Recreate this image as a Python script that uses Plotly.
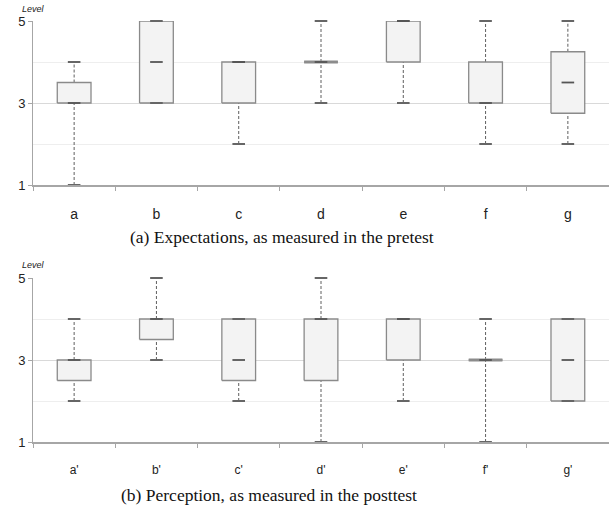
import plotly.graph_objects as go

# ---- data ----
cats_pre = ["a", "b", "c", "d", "e", "f", "g"]
pre_min = [1, 3, 2, 3, 3, 2, 2]
pre_q1 = [3, 3, 3, 4, 4, 3, 2.75]
pre_med = [3, 4, 4, 4, 5, 3, 3.5]
pre_q3 = [3.5, 5, 4, 4, 5, 4, 4.25]
pre_max = [4, 5, 4, 5, 5, 5, 5]

cats_post = ["a'", "b'", "c'", "d'", "e'", "f'", "g'"]
post_min = [2, 3, 2, 1, 2, 1, 2]
post_q1 = [2.5, 3.5, 2.5, 2.5, 3, 3, 2]
post_med = [3, 4, 3, 4, 4, 3, 3]
post_q3 = [3, 4, 4, 4, 4, 3, 4]
post_max = [4, 5, 4, 5, 4, 4, 4]

captions = ["(a) Expectations, as measured in the pretest",
            "(b) Perception, as measured in the posttest"]
y_title = "Level"

W, H = 609, 507
HALF = 0.205  # half box width in category units

fig = go.Figure()

panels = [
    (cats_pre, pre_min, pre_q1, pre_med, pre_q3, pre_max, "x", "y"),
    (cats_post, post_min, post_q1, post_med, post_q3, post_max, "x2", "y2"),
]

for cats, mn, q1, md, q3, mx, xa, ya in panels:
    n = len(cats)
    # whiskers
    wx, wy = [], []
    for i in range(n):
        if mn[i] < q1[i]:
            wx += [i, i, None]; wy += [mn[i], q1[i], None]
        if mx[i] > q3[i]:
            wx += [i, i, None]; wy += [q3[i], mx[i], None]
    fig.add_trace(go.Scatter(x=wx, y=wy, mode="lines", xaxis=xa, yaxis=ya,
                             line=dict(color="#5f5f5f", width=1, dash="3px,2px"),
                             hoverinfo="skip", showlegend=False, cliponaxis=False))
    # boxes
    bx, by = [], []
    fx, fy = [], []
    for i in range(n):
        bx += [i - HALF, i + HALF, i + HALF, i - HALF, i - HALF, None]
        by += [q1[i], q1[i], q3[i], q3[i], q1[i], None]
        if q1[i] == q3[i]:
            fx += [i - HALF, i + HALF, None]
            fy += [q1[i], q1[i], None]
    fig.add_trace(go.Scatter(x=bx, y=by, mode="lines", fill="toself",
                             fillcolor="#f3f3f3", xaxis=xa, yaxis=ya,
                             line=dict(color="#8a8a8a", width=1.3),
                             hoverinfo="skip", showlegend=False, cliponaxis=False))
    if fx:
        fig.add_trace(go.Scatter(x=fx, y=fy, mode="lines", xaxis=xa, yaxis=ya,
                                 line=dict(color="#8c8c8c", width=3),
                                 hoverinfo="skip", showlegend=False, cliponaxis=False))
    # caps
    fig.add_trace(go.Scatter(x=list(range(n)) * 2, y=list(mn) + list(mx), mode="markers",
                             xaxis=xa, yaxis=ya,
                             marker=dict(symbol="line-ew", size=9,
                                         line=dict(color="#666666", width=2)),
                             hoverinfo="skip", showlegend=False, cliponaxis=False))
    # medians
    fig.add_trace(go.Scatter(x=list(range(n)), y=md, mode="markers",
                             xaxis=xa, yaxis=ya,
                             marker=dict(symbol="line-ew", size=9,
                                         line=dict(color="#555555", width=1.8)),
                             hoverinfo="skip", showlegend=False, cliponaxis=False))

# axes
def xaxis_cfg(cats, fs, anchor, standoff):
    n = len(cats)
    return dict(domain=[33 / W, 1.0], range=[-0.5, n - 0.5], anchor=anchor,
                automargin=False,
                tickmode="array", tickvals=list(range(n)), ticktext=cats,
                ticks="outside", ticklen=0, tickcolor="#a6a6a6",
                ticklabelstandoff=standoff,
                tickfont=dict(family="Liberation Sans", size=fs, color="#222222"),
                showline=True, linecolor="#a6a6a6", linewidth=1.5,
                showgrid=False, zeroline=False,
                minor=dict(tickmode="array", tickvals=[i - 0.5 for i in range(n + 1)],
                           ticks="outside", ticklen=4, tickcolor="#a6a6a6",
                           tickwidth=1, showgrid=False))

def yaxis_cfg(top_px, bot_px, anchor):
    return dict(domain=[1 - bot_px / H, 1 - top_px / H], range=[1, 5], anchor=anchor,
                automargin=False,
                tickmode="array", tickvals=[1, 3, 5],
                ticks="outside", ticklen=4, tickcolor="#a6a6a6",
                tickfont=dict(family="Liberation Sans", size=13, color="#222222"),
                showline=True, linecolor="#a6a6a6", linewidth=1,
                showgrid=True, gridcolor="#d9d9d9", gridwidth=1, zeroline=False,
                minor=dict(tickmode="array", tickvals=[2, 4], showgrid=True,
                           gridcolor="#eeeeee", gridwidth=1, ticks=""))

fig.update_layout(
    width=W, height=H, margin=dict(l=0, r=0, t=0, b=0, autoexpand=False),
    paper_bgcolor="white", plot_bgcolor="white",
    xaxis=xaxis_cfg(cats_pre, 14, "y", 15),
    yaxis=yaxis_cfg(21, 185, "x"),
    xaxis2=xaxis_cfg(cats_post, 12, "y2", 16),
    yaxis2=yaxis_cfg(278, 442, "x2"),
    showlegend=False,
)

annos = [
    dict(text=captions[0], x=282 / W, y=1 - 237 / H),
    dict(text=captions[1], x=269 / W, y=1 - 495 / H),
]
for a in annos:
    fig.add_annotation(text=a["text"], x=a["x"], y=a["y"], xref="paper", yref="paper",
                       xanchor="center", yanchor="middle", showarrow=False,
                       font=dict(family="Liberation Serif", size=17.5, color="#111111"))
for yy in [9, 265]:
    fig.add_annotation(text="<i>" + y_title + "</i>", x=33 / W, y=1 - yy / H,
                       xref="paper", yref="paper", xanchor="center", yanchor="middle",
                       showarrow=False,
                       font=dict(family="Liberation Sans", size=9, color="#222222"))

fig.write_html("out.html", config={"displayModeBar": False},
               post_script="document.body.style.margin='0';document.body.style.overflow='hidden';")
